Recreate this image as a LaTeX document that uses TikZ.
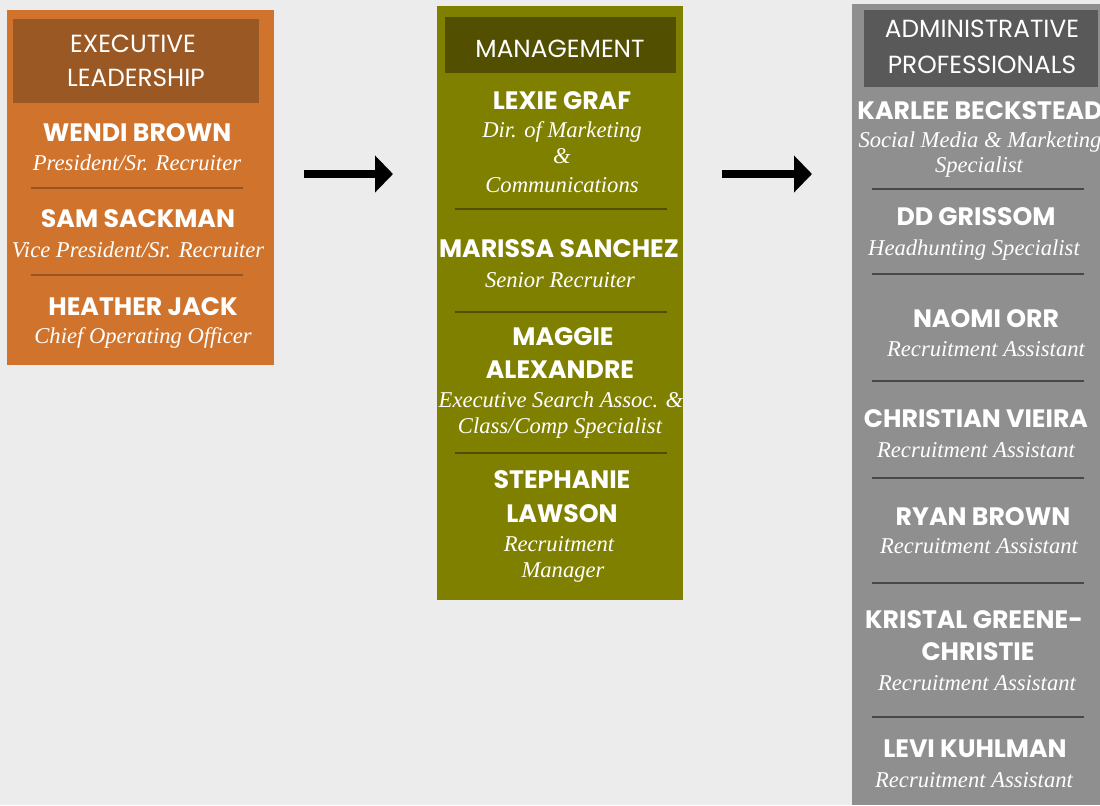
\documentclass[tikz,border=0pt]{standalone}
\usepackage{fontspec}
\setmainfont{Liberation Serif}
\newfontfamily\namefont{Poppins}
\newfontfamily\headfont{Poppins}
\usepackage{tikz}
\usetikzlibrary{arrows.meta,positioning}
\definecolor{pagegray}{RGB}{236,236,236}
\definecolor{execfill}{RGB}{208,116,45}
\definecolor{exechead}{RGB}{153,88,36}
\definecolor{execline}{RGB}{150,86,34}
\definecolor{mgmtfill}{RGB}{128,128,0}
\definecolor{mgmthead}{RGB}{82,79,0}
\definecolor{mgmtline}{RGB}{80,78,0}
\definecolor{adminfill}{RGB}{143,143,143}
\definecolor{adminhead}{RGB}{89,89,89}
\definecolor{adminline}{RGB}{72,72,72}

\begin{document}
\begin{tikzpicture}[x=0.5pt,y=-0.5pt,every node/.style={text=white,inner sep=0pt}]
\tikzstyle{column}=[rectangle,anchor=north west,inner sep=0pt,outer sep=0pt]
\tikzstyle{headtext}=[anchor=base,font=\headfont\fontsize{12.4}{17}\selectfont]
\tikzstyle{staff}=[anchor=base,font=\namefont\bfseries\fontsize{12.6}{17}\selectfont]
\tikzstyle{role}=[anchor=base,font=\itshape\fontsize{11.3}{13.5}\selectfont]
\tikzstyle{sep}=[line width=1.2pt]
\tikzstyle{bigarrow}=[line width=4pt,-{Triangle[length=9pt,width=18pt]}]
\fill[pagegray] (0,0) rectangle (1100,805);
\useasboundingbox (0,0) rectangle (1100,805);
% columns
\node[column,fill=execfill,minimum width=133.5pt,minimum height=177.5pt] (exec) at (7,10) {};
\node[column,fill=exechead,minimum width=123pt,minimum height=42pt] (exechd) at (13,19) {};
\node[column,fill=mgmtfill,minimum width=123pt,minimum height=297pt] (mgmt) at (437,6) {};
\node[column,fill=mgmthead,minimum width=115.5pt,minimum height=28pt] (mgmthd) at (445,17) {};
\node[column,fill=adminfill,minimum width=124pt,minimum height=400.5pt] (admin) at (852,4) {};
\node[column,fill=adminhead,minimum width=117pt,minimum height=38.5pt] (adminhd) at (864,10) {};
% headings
\node[headtext] (eh1) at (133,52) {EXECUTIVE};
\node[headtext] (eh2) at (136,86) {LEADERSHIP};
\node[headtext] (mh1) at (560,57) {MANAGEMENT};
\node[headtext] (ah1) at (982,37) {ADMINISTRATIVE};
\node[headtext] (ah2) at (982,73) {PROFESSIONALS};
% executive leadership
\foreach \x/\y/\t [count=\i] in {137/141/WENDI BROWN,138/227/SAM SACKMAN,143/315/HEATHER JACK}
  \node[staff] (en\i) at (\x,\y) {\t};
\foreach \x/\y/\t [count=\i] in {137/170/{President/Sr. Recruiter},138/257/{Vice President/Sr. Recruiter},143/343/{Chief Operating Officer}}
  \node[role] (er\i) at (\x,\y) {\t};
\foreach \y in {188,275}
  \draw[sep,execline] (31,\y) -- (243,\y);
% management
\foreach \x/\y/\t [count=\i] in {562/109/LEXIE GRAF,559/257/MARISSA SANCHEZ,563/345/MAGGIE,560/378/ALEXANDRE,562/488/STEPHANIE,562/522/LAWSON}
  \node[staff] (mn\i) at (\x,\y) {\t};
\foreach \x/\y/\t [count=\i] in {562/137/{Dir. of Marketing},562/163/{\&},562/192/{Communications},560/287/{Senior Recruiter},561/407/{Executive Search Assoc. \&},560/433/{Class/Comp Specialist},559/551/{Recruitment},563/577/{Manager}}
  \node[role] (mr\i) at (\x,\y) {\t};
\foreach \y in {209,312,453}
  \draw[sep,mgmtline] (455,\y) -- (667,\y);
% administrative professionals
\foreach \x/\y/\t [count=\i] in {980/119/KARLEE BECKSTEAD,976/225/DD GRISSOM,986/327/NAOMI ORR,976/427/CHRISTIAN VIEIRA,983/525/RYAN BROWN,974/628/KRISTAL GREENE-,978/660/CHRISTIE,975/757/LEVI KUHLMAN}
  \node[staff] (an\i) at (\x,\y) {\t};
\foreach \x/\y/\t [count=\i] in {980/147/{Social Media \& Marketing},979/172/{Specialist},974/255/{Headhunting Specialist},986/356/{Recruitment Assistant},976/457/{Recruitment Assistant},979/553/{Recruitment Assistant},977/690/{Recruitment Assistant},974/787/{Recruitment Assistant}}
  \node[role] (ar\i) at (\x,\y) {\t};
\foreach \y in {189,274,381,478,583,717}
  \draw[sep,adminline] (872,\y) -- (1084,\y);
% arrows
\draw[bigarrow,shorten <=15pt,shorten >=22pt] (exec.east |- 0,174) -- (mgmt.west |- 0,174);
\draw[bigarrow,shorten <=19.5pt,shorten >=20pt] (mgmt.east |- 0,174) -- (admin.west |- 0,174);
\end{tikzpicture}
\end{document}
